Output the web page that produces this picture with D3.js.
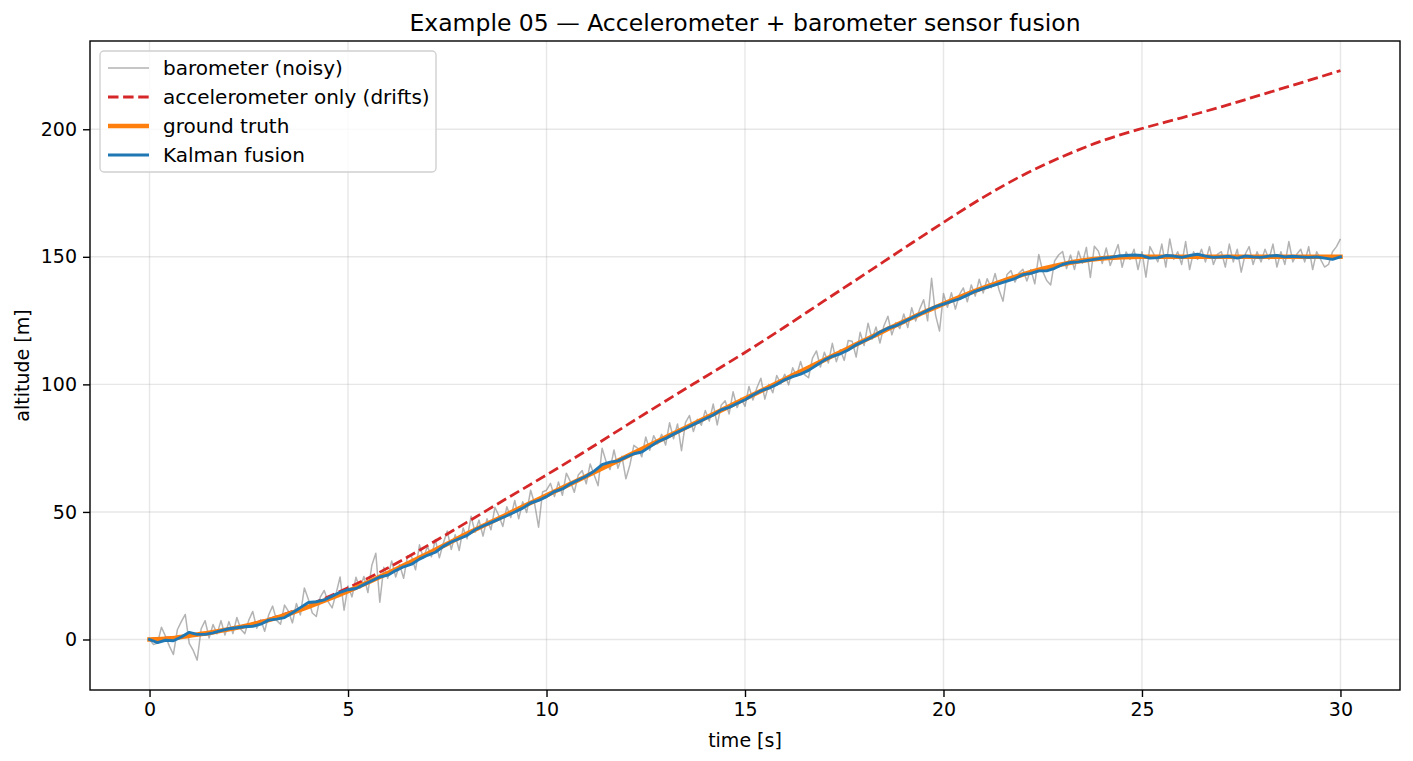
<!DOCTYPE html>
<html>
<head>
<meta charset="utf-8">
<script src="https://cdn.jsdelivr.net/npm/d3@7"></script>
<style>
    body { margin: 0; background: #fff; }
    svg text { font-family: "DejaVu Sans", sans-serif; fill: #000; }
</style>
</head>
<body>
<script>
(function(){
    // sample spacing of each series [s]
    var baroDt = 0.1,
        kalmanDt = 0.2,
        truthDt = 0.5,
        accelDt = 1.0;

    // barometer readings, 10 per row = 1 second
    var baroValues = [
        0, -2, -1.4, 4.8, 1.3, -2.6, -5.9, 3.8, 7.0, 9.8,
        -1.5, -4.3, -8.1, 4.2, 7.4, 0.6, 5.9, 2.2, 7.4, 1.7,
        7, 2.3, 8.6, 4, 2.3, 7.6, 11, 4.4, 7.8, 3.2,
        9.6, 13.1, 7.5, 6, 13.5, 11, 6.5, 14.1, 9.6, 20.2,
        15.8, 10.4, 9, 16.6, 19.2, 14.8, 12.4, 18.1, 24.5, 11.5,
        21, 16.7, 24.4, 20.1, 24.7, 18.4, 29.1, 33.8, 14.6, 28.3,
        24, 30.8, 24.5, 29.3, 24, 32.8, 32.5, 27.3, 37.1, 31.8,
        36.6, 32.4, 39.2, 32, 37.7, 42.5, 35.3, 41.1, 34.9, 43.7,
        39.5, 48.3, 42, 46.8, 40.5, 47.3, 43, 51.8, 48.5, 44.3,
        52, 47.8, 54.5, 47.3, 54, 49.8, 58.5, 53.3, 44, 57.8,
        58.5, 61.2, 56, 61.7, 56.5, 65.2, 62, 57.7, 64.5, 66.2,
        61, 68.8, 64.5, 60.3, 75, 69.8, 66.6, 74.3, 67.1, 71.8,
        63, 68.4, 76.1, 74.9, 71.6, 79.4, 74.2, 79.9, 76.7, 80.4,
        76.2, 85, 78.7, 84.5, 74, 85, 87.8, 81.5, 86.3, 84,
        89.8, 85.6, 92.3, 84.1, 91.8, 93.6, 88.4, 97.1, 90.9, 94.6,
        91.4, 99.2, 93.9, 98.7, 102.4, 94.2, 100, 96.7, 103.5, 100.2,
        104, 99.8, 106.5, 103.3, 109, 103.8, 102.6, 110.3, 113.1, 106.8,
        112.6, 108.4, 116.1, 108.9, 113.6, 109.4, 117.2, 116.9, 110.7, 120.4,
        115.2, 124, 117.7, 122.5, 116.2, 123, 126.7, 119.4, 124.2, 121.9,
        127.6, 122.3, 130, 124.8, 129.5, 133.2, 124.9, 141.6, 127.2, 120.9,
        135.6, 130.2, 135.9, 129.5, 135.2, 137.8, 132.4, 139, 134.6, 141.2,
        135.8, 141.4, 137.9, 143.5, 137, 132.6, 143.1, 144.6, 140.1, 143.6,
        145.1, 140.5, 145, 139.4, 150.9, 144.3, 140.7, 139, 148.4, 150.7,
        152.1, 145.4, 150.7, 145, 152.2, 147.5, 153.7, 141.9, 154.1, 152.3,
        147.4, 153.5, 146.6, 150.7, 154.8, 145.9, 151.9, 149, 153, 145,
        152, 142, 154, 151, 148, 155, 146, 157, 149, 152,
        147, 156, 145, 152, 149, 153, 148, 154, 147, 151,
        152, 146, 155, 148, 153, 144, 151, 154, 147, 152,
        148, 153, 149, 155, 146, 152, 147, 156, 148, 151,
        153, 148, 154, 145, 152, 149, 146, 147, 152, 154,
        157
    ];

    // accelerometer-only integration, one value per second
    var accelValues = [
        0, 1.5, 4.1, 7.9, 13.4, 20.3, 28, 36.8, 46, 55.3,
        64.5, 74, 83.8, 93.5, 103, 112.5, 122.5, 132.8, 143, 153.3,
        163.5, 173.3, 182, 189.3, 195.5, 200.3, 204.5, 208.8, 213.5, 218.2,
        223
    ];

    // ground truth altitude, every 0.5 s
    var truthValues = [
        0, 0.4, 1.5, 2.6, 4, 5.6, 7.6, 10, 12.8, 15.8,
        19, 22.4, 26, 29.8, 33.6, 37.5, 41.5, 45.3, 49, 52.8,
        56.5, 60.2, 64, 67.8, 71.6, 75.4, 79.2, 83, 86.8, 90.6,
        94.4, 98.2, 102, 105.8, 109.6, 113.4, 117.2, 121, 124.6, 128.2,
        131.6, 134.8, 137.8, 140.6, 143.1, 145.3, 147.1, 148.5, 149.4, 149.9,
        150, 150, 150, 150, 150, 150, 150, 150, 150, 150,
        150
    ];

    // Kalman fused estimate, every 0.2 s
    var kalmanValues = [
        0, -1.2, -0.3, -0.5, 1.0,
        2.8, 2.0, 2.0, 2.6, 3.5,
        4.2, 4.6, 5.0, 5.2, 6.0,
        7.6, 8.0, 8.6, 10.5, 12.5,
        14.5, 14.8, 15.5, 17.0, 18.5,
        19.5, 20.0, 21.5, 23.0, 24.5,
        25.2, 27.0, 28.5, 29.5, 31.5,
        33.0, 34.2, 36.5, 38.2, 39.5,
        40.8, 43.0, 44.5, 45.8, 47.2,
        48.5, 50.0, 51.5, 53.5, 54.5,
        56.0, 58.0, 59.0, 61.0, 62.5,
        64.0, 66.0, 68.5, 69.5, 70.0,
        71.5, 72.8, 73.5, 75.5, 77.5,
        78.8, 80.5, 82.0, 83.5, 85.0,
        86.5, 88.0, 90.0, 91.0, 92.5,
        94.0, 95.8, 97.5, 98.5, 100.0,
        101.8, 103.0, 104.0, 105.5, 107.5,
        109.5, 111.0, 112.0, 113.5, 115.5,
        117.0, 118.5, 120.5, 122.0, 123.0,
        124.5, 126.0, 127.5, 129.0, 130.5,
        131.5, 132.5, 133.5, 135.0, 136.5,
        137.5, 138.5, 139.5, 140.5, 141.5,
        143.0, 143.5, 144.5, 144.5, 145.5,
        147.0, 147.8, 148.0, 148.5, 149.0,
        149.5, 149.8, 150.3, 150.5, 150.7,
        150.5, 149.5, 149.7, 150.5, 150.3,
        149.8, 150.5, 151.0, 150.3, 149.8,
        150.0, 150.2, 149.5, 150.3, 150.0,
        149.8, 150.3, 150.5, 150.0, 150.2,
        150.0, 149.8, 150.0, 149.5, 149.0,
        150.0
    ];

    var xTicks = [0, 5, 10, 15, 20, 25, 30],
        yTicks = [0, 50, 100, 150, 200];

    var seriesNames = ["barometer (noisy)", "accelerometer only (drifts)", "ground truth", "Kalman fusion"];

    window.onload = drawChart;

    function toPoints(values, dt){
        return values.map(function(v, i){ return [i * dt, v]; });
    }

    function drawChart(){
        var width = 1413,
            height = 761;
        var margin = { top: 41, right: 13, bottom: 71, left: 90 };
        var innerW = width - margin.left - margin.right,
            innerH = height - margin.top - margin.bottom;

        var svg = d3.select("body").append("svg")
            .attr("width", width)
            .attr("height", height);

        var g = svg.append("g")
            .attr("transform", `translate(${margin.left},${margin.top})`);

        var x = d3.scaleLinear().domain([-1.5, 31.5]).range([0, innerW]);
        var y = d3.scaleLinear().domain([-19.8, 234.6]).range([innerH, 0]);

        // grid
        g.append("g").selectAll("line")
            .data(xTicks).enter().append("line")
            .attr("x1", d => x(d)).attr("x2", d => x(d))
            .attr("y1", 0).attr("y2", innerH)
            .attr("stroke", "#b0b0b0").attr("stroke-opacity", 0.3).attr("stroke-width", 1.4);
        g.append("g").selectAll("line")
            .data(yTicks).enter().append("line")
            .attr("x1", 0).attr("x2", innerW)
            .attr("y1", d => y(d)).attr("y2", d => y(d))
            .attr("stroke", "#b0b0b0").attr("stroke-opacity", 0.3).attr("stroke-width", 1.4);

        var line = d3.line()
            .x(d => x(d[0]))
            .y(d => y(d[1]));
        var smooth = d3.line()
            .curve(d3.curveMonotoneX)
            .x(d => x(d[0]))
            .y(d => y(d[1]));

        var plot = g.append("g");

        plot.append("path")
            .attr("d", line(toPoints(baroValues, baroDt)))
            .attr("fill", "none")
            .attr("stroke", "#808080")
            .attr("stroke-opacity", 0.6)
            .attr("stroke-width", 1.5)
            .attr("stroke-linejoin", "round");

        plot.append("path")
            .attr("d", smooth(toPoints(accelValues, accelDt)))
            .attr("fill", "none")
            .attr("stroke", "#d62728")
            .attr("stroke-width", 2.8)
            .attr("stroke-dasharray", "10.5,4.6");

        plot.append("path")
            .attr("d", smooth(toPoints(truthValues, truthDt)))
            .attr("fill", "none")
            .attr("stroke", "#ff7f0e")
            .attr("stroke-width", 4.6)
            .attr("stroke-linecap", "square");

        plot.append("path")
            .attr("d", line(toPoints(kalmanValues, kalmanDt)))
            .attr("fill", "none")
            .attr("stroke", "#1f77b4")
            .attr("stroke-width", 2.9)
            .attr("stroke-linejoin", "round")
            .attr("stroke-linecap", "square");

        // axes
        var xAxis = g.append("g")
            .attr("transform", `translate(0,${innerH})`)
            .call(d3.axisBottom(x).tickValues(xTicks).tickSize(7).tickPadding(6).tickSizeOuter(0));
        var yAxis = g.append("g")
            .call(d3.axisLeft(y).tickValues(yTicks).tickSize(7).tickPadding(6).tickSizeOuter(0));
        [xAxis, yAxis].forEach(function(a){
            a.select(".domain").remove();
            a.selectAll("line").attr("stroke", "#000").attr("stroke-width", 1.4);
            a.selectAll("text").style("font-size", "19px").style("font-family", "DejaVu Sans");
        });

        // frame
        g.append("rect")
            .attr("width", innerW).attr("height", innerH)
            .attr("fill", "none").attr("stroke", "#000").attr("stroke-width", 1.4);

        // title and labels
        svg.append("text")
            .attr("x", margin.left + innerW / 2).attr("y", 31)
            .attr("text-anchor", "middle")
            .style("font-size", "23.5px")
            .text("Example 05 \u2014 Accelerometer + barometer sensor fusion");
        svg.append("text")
            .attr("x", margin.left + innerW / 2).attr("y", 747)
            .attr("text-anchor", "middle")
            .style("font-size", "19px")
            .text("time [s]");
        svg.append("text")
            .attr("transform", `translate(29,${margin.top + innerH / 2}) rotate(-90)`)
            .attr("text-anchor", "middle")
            .style("font-size", "19px")
            .text("altitude [m]");

        // legend
        var legend = svg.append("g").attr("transform", "translate(100,51)");
        legend.append("rect")
            .attr("width", 336).attr("height", 121)
            .attr("rx", 4)
            .attr("fill", "#fff").attr("fill-opacity", 0.8)
            .attr("stroke", "#d0d0d0").attr("stroke-width", 1.4);

        var handles = [
            { color: "#808080", opacity: 0.6, width: 1.5, dash: null },
            { color: "#d62728", opacity: 1, width: 2.8, dash: "10.5,4.6" },
            { color: "#ff7f0e", opacity: 1, width: 4.6, dash: null },
            { color: "#1f77b4", opacity: 1, width: 2.9, dash: null }
        ];

        var entries = legend.selectAll(".entry")
            .data(seriesNames).enter().append("g")
            .attr("class", "entry")
            .attr("transform", (d, i) => `translate(0,${17 + i * 29})`);
        entries.append("line")
            .attr("x1", 8).attr("x2", 49)
            .attr("stroke", (d, i) => handles[i].color)
            .attr("stroke-opacity", (d, i) => handles[i].opacity)
            .attr("stroke-width", (d, i) => handles[i].width)
            .attr("stroke-dasharray", (d, i) => handles[i].dash);
        entries.append("text")
            .attr("x", 63).attr("dy", "0.35em")
            .style("font-size", "20px")
            .text(d => d);
    }
})();
</script>
</body>
</html>
